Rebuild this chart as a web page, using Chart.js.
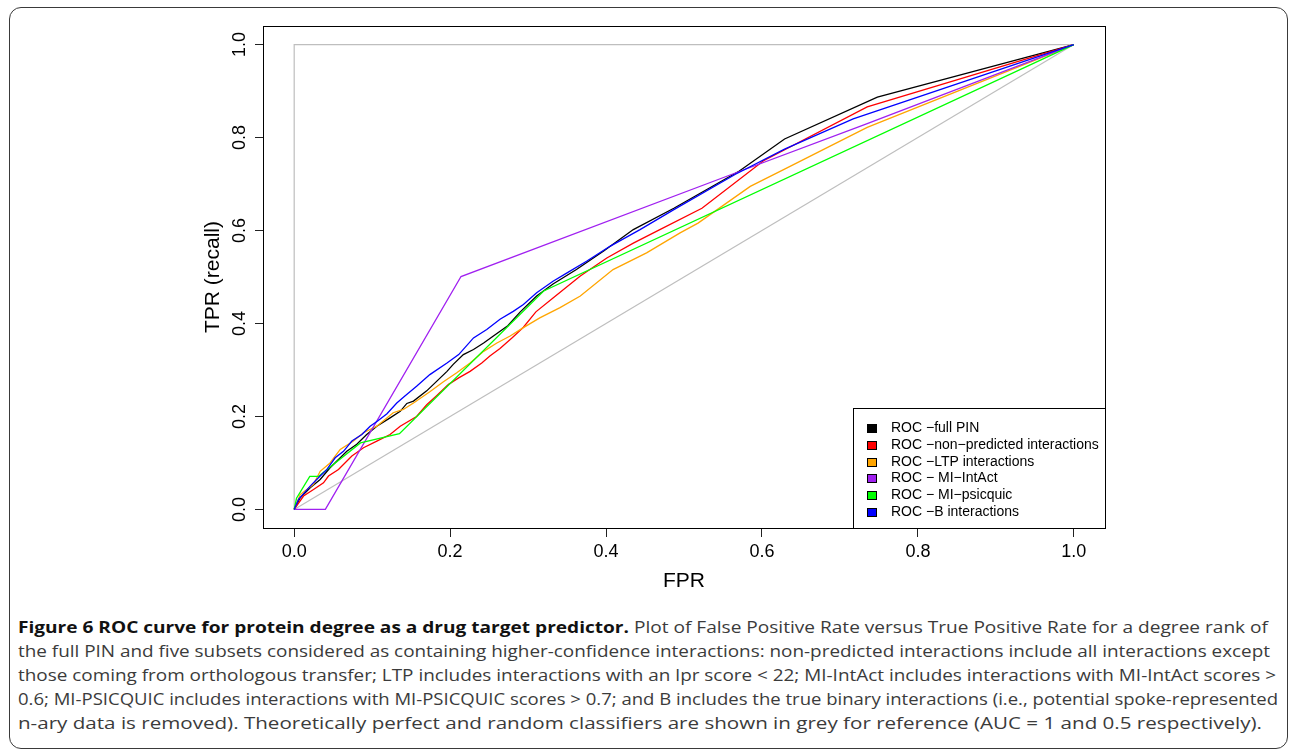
<!DOCTYPE html>
<html>
<head>
<meta charset="utf-8">
<script src="https://cdn.jsdelivr.net/npm/chart.js@4.4.0/dist/chart.umd.min.js"></script>
<style>
  html, body { margin: 0; padding: 0; background: #fff; }
  body { width: 1290px; height: 752px; position: relative; overflow: hidden; }
  #frame { position: absolute; left: 9px; top: 7px; width: 1279px; height: 742px; box-sizing: border-box;
           border: 1.5px solid #3a3a3a; border-radius: 12px; }
  #wrap { position: absolute; left: 0; top: 0; width: 1290px; height: 600px; }
  #caption { position: absolute; left: 18px; top: 615px; font-family: 'Open Sans', sans-serif;
             font-size: 16px; line-height: 24px; color: #3b3b3b; }
  #caption div { white-space: nowrap; height: 24px; width: max-content; transform-origin: 0 50%; }
  #caption b { color: #111; font-weight: 700; }
</style>
</head>
<body>
<div id="frame"></div>
<div id="wrap"><canvas id="chart" width="1290" height="600"></canvas></div>
<div id="caption">
  <div><b>Figure 6 ROC curve for protein degree as a drug target predictor.</b> Plot of False Positive Rate versus True Positive Rate for a degree rank of</div>
  <div>the full PIN and five subsets considered as containing higher-confidence interactions: non-predicted interactions include all interactions except</div>
  <div>those coming from orthologous transfer; LTP includes interactions with an lpr score &lt; 22; MI-IntAct includes interactions with MI-IntAct scores &gt;</div>
  <div>0.6; MI-PSICQUIC includes interactions with MI-PSICQUIC scores &gt; 0.7; and B includes the true binary interactions (i.e., potential spoke-represented</div>
  <div>n-ary data is removed). Theoretically perfect and random classifiers are shown in grey for reference (AUC = 1 and 0.5 respectively).</div>
</div>
<script>
// axis ticks
const tickValues = [0, 0.2, 0.4, 0.6, 0.8, 1.0];

// series names / colours (legend order)
const seriesNames = ['ROC \u2212full PIN', 'ROC \u2212non\u2212predicted interactions', 'ROC \u2212LTP interactions',
                     'ROC \u2212 MI\u2212IntAct', 'ROC \u2212 MI\u2212psicquic', 'ROC \u2212B interactions'];
const seriesColors = ['#000000', '#ff0000', '#ffa500', '#a020f0', '#00ff00', '#0000ff'];

// full PIN
const fullFpr = [0, 0.0077, 0.0205, 0.0333, 0.046, 0.0568, 0.0675, 0.0803, 0.093, 0.106, 0.123, 0.136, 0.1445, 0.153,
                 0.17, 0.183, 0.196, 0.204, 0.217, 0.23, 0.243, 0.2555, 0.274, 0.29, 0.311, 0.332, 0.362, 0.397, 0.435,
                 0.487, 0.571, 0.629, 0.748, 1];
const fullTpr = [0, 0.025, 0.0466, 0.0645, 0.0896, 0.1075, 0.125, 0.14, 0.161, 0.179, 0.197, 0.211, 0.228, 0.233,
                 0.255, 0.276, 0.297, 0.312, 0.333, 0.344, 0.358, 0.373, 0.395, 0.425, 0.459, 0.485, 0.516, 0.556, 0.602,
                 0.648, 0.728, 0.797, 0.887, 1];

// non-predicted interactions
const nonPredFpr = [0, 0.012, 0.0248, 0.0376, 0.044, 0.0568, 0.074, 0.0889, 0.106, 0.123, 0.136, 0.157, 0.17, 0.183,
                    0.198, 0.211, 0.2256, 0.2406, 0.251, 0.264, 0.28, 0.294, 0.31, 0.332, 0.367, 0.401, 0.435, 0.469,
                    0.523, 0.602, 0.735, 1];
const nonPredTpr = [0, 0.0287, 0.043, 0.0573, 0.0717, 0.086, 0.115, 0.1326, 0.147, 0.161, 0.179, 0.2, 0.225, 0.245,
                    0.269, 0.283, 0.297, 0.315, 0.33, 0.346, 0.37, 0.392, 0.425, 0.455, 0.502, 0.541, 0.573, 0.602,
                    0.648, 0.75, 0.866, 1];

// LTP interactions
const ltpFpr = [0, 0.0077, 0.0248, 0.0333, 0.046, 0.059, 0.076, 0.0889, 0.106, 0.127, 0.14, 0.153, 0.174, 0.191,
                0.2085, 0.2256, 0.243, 0.26, 0.277, 0.294, 0.315, 0.341, 0.367, 0.409, 0.452, 0.495, 0.518, 0.585,
                0.629, 0.735, 1];
const ltpTpr = [0, 0.032, 0.054, 0.082, 0.1, 0.129, 0.147, 0.165, 0.179, 0.208, 0.215, 0.229, 0.253, 0.274,
                0.294, 0.315, 0.34, 0.358, 0.373, 0.391, 0.412, 0.434, 0.459, 0.516, 0.552, 0.595, 0.616, 0.695,
                0.732, 0.822, 1];

// MI-IntAct
const intactFpr = [0, 0.04, 0.214, 0.56, 0.735, 1];
const intactTpr = [0, 0, 0.501, 0.72, 0.83, 1];

// MI-psicquic
const psicFpr = [0, 0.003, 0.02, 0.031, 0.085, 0.135, 0.32, 1];
const psicTpr = [0, 0.024, 0.071, 0.071, 0.143, 0.163, 0.47, 1];

// B interactions
const binFpr = [0, 0.0056, 0.0205, 0.0333, 0.042, 0.0526, 0.0632, 0.074, 0.0868, 0.0974, 0.107, 0.119, 0.1316, 0.142,
                0.157, 0.174, 0.196, 0.211, 0.23, 0.247, 0.264, 0.281, 0.294, 0.311, 0.332, 0.35, 0.375, 0.405, 0.4436,
                0.487, 0.566, 0.629, 0.717, 1];
const binTpr = [0, 0.0215, 0.05, 0.0717, 0.086, 0.111, 0.125, 0.147, 0.161, 0.179, 0.19, 0.206, 0.229, 0.244,
                0.265, 0.29, 0.315, 0.333, 0.369, 0.387, 0.409, 0.426, 0.441, 0.466, 0.491, 0.509, 0.534, 0.566, 0.602,
                0.645, 0.721, 0.775, 0.84, 1];

// reference classifiers (grey)
const perfectFpr = [0, 0, 1];
const perfectTpr = [0, 1, 1];
const randomFpr = [0, 1];
const randomTpr = [0, 1];

const seriesFpr = [fullFpr, nonPredFpr, ltpFpr, intactFpr, psicFpr, binFpr];
const seriesTpr = [fullTpr, nonPredTpr, ltpTpr, intactTpr, psicTpr, binTpr];

function toPoints(xs, ys) {
    return xs.map((x, i) => ({ x: x, y: ys[i] }));
}

const datasets = seriesNames.map((name, i) => ({
    label: name,
    data: toPoints(seriesFpr[i], seriesTpr[i]),
    borderColor: seriesColors[i],
    borderWidth: 1.3,
    order: 6 - i
}));
datasets.push({ label: 'perfect', data: toPoints(perfectFpr, perfectTpr), borderColor: '#bebebe', borderWidth: 1.2, order: 10 });
datasets.push({ label: 'random', data: toPoints(randomFpr, randomTpr), borderColor: '#bebebe', borderWidth: 1.2, order: 11 });

const axisFont = { family: '"Liberation Sans", Arial, sans-serif', size: 18 };
const titleFont = { family: '"Liberation Sans", Arial, sans-serif', size: 21 };

// plot frame + legend drawn inside the plot box (like R's legend("bottomright"))
const boxLegend = {
    id: 'boxLegend',
    afterDatasetsDraw(chart) {
        const { ctx, chartArea: a } = chart;
        ctx.save();
        ctx.strokeStyle = '#000';
        ctx.lineWidth = 1;
        ctx.strokeRect(a.left + 0.5, a.top + 0.5, a.right - a.left, a.bottom - a.top);

        const w = 252, h = 120;
        const lx = a.right - w, ly = a.bottom - h;
        ctx.fillStyle = '#fff';
        ctx.fillRect(lx, ly, w, h);
        ctx.strokeRect(lx + 0.5, ly + 0.5, w, h);
        ctx.font = '14px "Liberation Sans", Arial, sans-serif';
        ctx.textBaseline = 'middle';
        seriesNames.forEach((name, i) => {
            const cy = Math.round(ly + 20 + i * 16.8);
            ctx.fillStyle = seriesColors[i];
            ctx.fillRect(lx + 14, cy - 4, 10, 9);
            ctx.strokeRect(lx + 14.5, cy - 3.5, 9, 8);
            ctx.fillStyle = '#000';
            ctx.fillText(name, lx + 38, cy + 0.5);
        });
        ctx.restore();
    }
};

new Chart(document.getElementById('chart'), {
    type: 'line',
    data: { datasets: datasets },
    options: {
        responsive: false,
        animation: false,
        devicePixelRatio: 1,
        layout: { padding: { left: 0, top: 26, right: 185, bottom: 0 } },
        elements: { point: { radius: 0 }, line: { tension: 0 } },
        plugins: { legend: { display: false }, tooltip: { enabled: false } },
        scales: {
            x: {
                type: 'linear', min: -0.04, max: 1.04,
                afterBuildTicks: s => { s.ticks = tickValues.map(v => ({ value: v })); },
                afterFit: s => { s.height = 72; },
                border: { display: false },
                grid: { drawOnChartArea: false, tickLength: 9, color: '#222', lineWidth: 1 },
                ticks: { autoSkip: false, maxRotation: 0, padding: 4, color: '#000', font: axisFont,
                         callback: v => v.toFixed(1) },
                title: { display: true, text: 'FPR', color: '#000', font: titleFont, padding: { top: 0, bottom: 6 } }
            },
            y: {
                type: 'linear', min: -0.04, max: 1.04,
                afterBuildTicks: s => { s.ticks = tickValues.map(v => ({ value: v })); },
                afterFit: s => { s.width = 263; },
                border: { display: false },
                grid: { drawOnChartArea: false, tickLength: 8, color: '#222', lineWidth: 1 },
                ticks: { autoSkip: false, minRotation: 90, maxRotation: 90, crossAlign: 'center', padding: 2,
                         color: '#000', font: axisFont, callback: v => v.toFixed(1) },
                title: { display: true, text: 'TPR (recall)', color: '#000', font: titleFont, padding: { top: 201, bottom: 0 } }
            }
        }
    },
    plugins: [boxLegend]
});

// fit caption lines to the widths they take in the figure
const captionWidths = [1250, 1252, 1258, 1260, 1244];
function fitCaption() {
    document.querySelectorAll('#caption div').forEach((d, i) => {
        d.style.transform = 'none';
        const w = d.getBoundingClientRect().width;
        d.style.transform = 'scaleX(' + (captionWidths[i] / w) + ')';
    });
}
fitCaption();
if (document.fonts) document.fonts.ready.then(fitCaption);
</script>
</body>
</html>
